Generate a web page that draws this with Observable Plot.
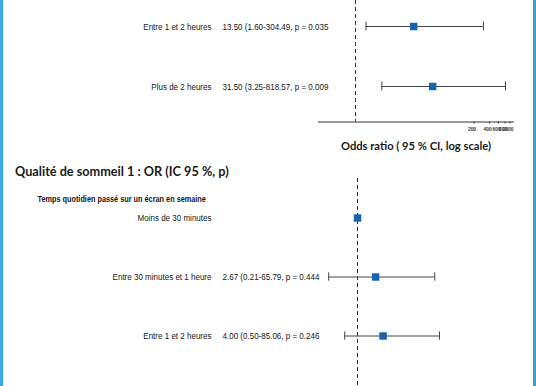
<!DOCTYPE html>
<html><head><meta charset="utf-8">
<script src="https://cdn.jsdelivr.net/npm/d3@7"></script>
<script src="https://cdn.jsdelivr.net/npm/@observablehq/plot@0.6"></script>
<style>
body{margin:0;background:#fff;}
#wrap{position:relative;width:536px;height:386px;overflow:hidden;background:#fff;}
.bl{position:absolute;top:0;left:0;width:3px;height:386px;background:#3aa9e6;z-index:2}
.br{position:absolute;top:0;left:533px;width:3px;height:386px;background:#3a9fd8;z-index:2}
#title{position:absolute;left:15px;top:163px;font:bold 12.7px Lato, sans-serif;color:#1a1a1a;line-height:16px;white-space:nowrap}
#p1{position:absolute;left:0;top:0}
#p2{position:absolute;left:0;top:160px}
</style></head><body>
<div id="wrap"><div class="bl"></div><div class="br"></div>
<div id="p1"></div><div id="title"></div><div id="p2"></div></div>
<script>
// ---- data ----
const topLabels = ["Entre 1 et 2 heures", "Plus de 2 heures"];
const topOR = [13.50, 31.50];
const topLo = [1.60, 3.25];
const topHi = [304.49, 818.57];
const topP = [0.035, 0.009];

const panelTitle = "Qualité de sommeil 1 : OR (IC 95 %, p)";
const groupHeader = "Temps quotidien passé sur un écran en semaine";
const botLabels = ["Moins de 30 minutes", "Entre 30 minutes et 1 heure", "Entre 1 et 2 heures"];
const botOR = [1, 2.67, 4.00];
const botLo = [null, 0.21, 0.50];
const botHi = [null, 65.79, 85.06];
const botP = [null, 0.444, 0.246];

const axisTicks = [200, 400, 600, 800, 1000];
const axisLabel = "Odds ratio ( 95 % CI, log scale)";

// ---- helpers ----
const SANS = "'Liberation Sans', Arial, sans-serif";
const BLUE = "#1565b0";
const LINE = "#444";
const INK = "#161616";
function rows(labels, or, lo, hi, p) {
  return labels.map((label, i) => ({
    label, or: or[i], lo: lo[i], hi: hi[i], p: p[i],
    txt: lo[i] == null ? "" : `${or[i].toFixed(2)} (${lo[i].toFixed(2)}-${hi[i].toFixed(2)}, p = ${p[i].toFixed(3)}`
  }));
}
const topData = rows(topLabels, topOR, topLo, topHi, topP);
const botData = rows(botLabels, botOR, botLo, botHi, botP);
const ciData = d => d.filter(r => r.lo != null);

function forestMarks(data, mL, bw) {
  const ci = ciData(data);
  const ins = (bw - 9) / 2;
  return [
    Plot.ruleX([1], {stroke: "#333", strokeDasharray: "4,3", strokeWidth: 1}),
    Plot.ruleY(ci, {x1: "lo", x2: "hi", y: "label", stroke: LINE, strokeWidth: 1}),
    Plot.tickX(ci, {x: "lo", y: "label", stroke: LINE, insetTop: ins, insetBottom: ins}),
    Plot.tickX(ci, {x: "hi", y: "label", stroke: LINE, insetTop: ins, insetBottom: ins}),
    Plot.dot(data, {x: "or", y: "label", symbol: "square", r: 4.2, fill: BLUE, stroke: null}),
    Plot.text(data, {y: "label", text: "label", frameAnchor: "left", dx: 211 - mL, textAnchor: "end",
      fontFamily: SANS, fontSize: 9.5, fill: INK}),
    Plot.text(data, {y: "label", text: "txt", frameAnchor: "left", dx: 222 - mL, textAnchor: "start",
      fontFamily: SANS, fontSize: 9.5, fill: INK})
  ];
}

// condense text horizontally (reference uses a condensed face)
function condense(svg) {
  svg.querySelectorAll('g[aria-label="text"] text').forEach(t => {
    const s = t.textContent === groupHeader ? 0.77 : 0.845;
    const tr = t.getAttribute("transform");
    if (tr) t.setAttribute("transform", tr + ` scale(${s},1)`);
    else {
      const x = +(t.getAttribute("x") || 0), y = +(t.getAttribute("y") || 0);
      t.removeAttribute("x"); t.removeAttribute("y");
      t.setAttribute("transform", `translate(${x},${y}) scale(${s},1)`);
    }
  });
  return svg;
}

// ---- top panel ----
const mL1 = 318;
const p1 = Plot.plot({
  width: 536, height: 160,
  marginLeft: mL1, marginRight: 23, marginTop: 0, marginBottom: 38.5,
  style: {background: "transparent", overflow: "visible"},
  x: {type: "log", domain: [0.1912, 1169]},
  y: {type: "band", domain: topLabels, range: [-4.3, 116], padding: 0, axis: null},
  marks: [
    ...forestMarks(topData, mL1, 60.15),
    Plot.frame({anchor: "bottom", stroke: "#333"}),
    Plot.axisX({ticks: axisTicks, tickFormat: () => "", tickSize: 2, label: null, stroke: "#333"}),
    Plot.text(axisTicks, {x: d => d, text: d => String(d), frameAnchor: "bottom", dy: 8.5, dx: -2,
      fontFamily: SANS, fontSize: 5.8, fontWeight: "bold", fill: "#333"}),
    Plot.axisX({ticks: [], label: axisLabel, labelAnchor: "center", labelOffset: 28, labelArrow: "none",
      fontSize: 11.2, fontWeight: "bold", fontFamily: "Lato, sans-serif", fill: "#1a1a1a"})
  ]
});
document.getElementById("p1").append(condense(p1));

document.getElementById("title").textContent = panelTitle;

// ---- bottom panel ----
const mL2 = 314.5;
const p2 = Plot.plot({
  width: 536, height: 226,
  marginLeft: mL2, marginRight: 94, marginTop: 18, marginBottom: 0,
  style: {background: "transparent", overflow: "visible"},
  x: {type: "log", domain: [0.1, 100], axis: null},
  y: {type: "band", domain: botLabels, range: [26.9, 205.9], padding: 0, axis: null},
  marks: [
    ...forestMarks(botData, mL2, 59.67),
    Plot.text([groupHeader], {text: d => d, frameAnchor: "top-left", dx: 37 - mL2, dy: 17,
      textAnchor: "start", fontFamily: SANS, fontSize: 9.5, fontWeight: "bold", fill: INK})
  ]
});
document.getElementById("p2").append(condense(p2));
</script>
</body></html>
